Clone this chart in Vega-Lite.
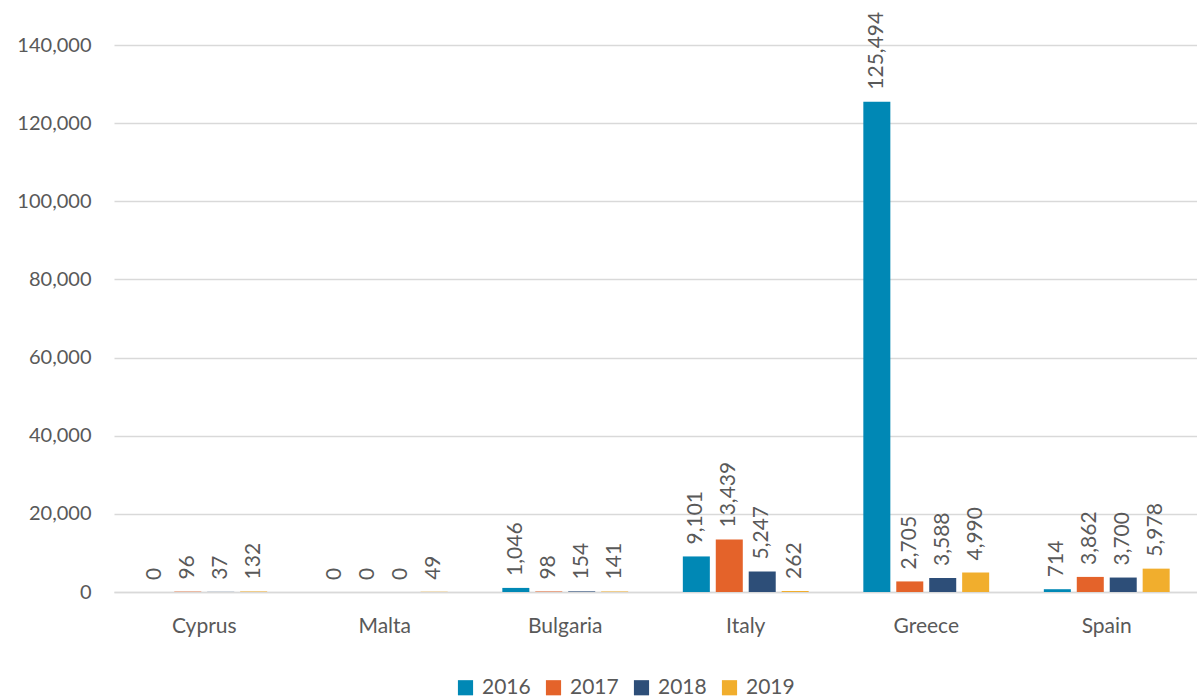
{
  "$schema": "https://vega.github.io/schema/vega-lite/v6.json",
  "width": 1083,
  "height": 547,
  "autosize": {"type": "none"},
  "padding": {"left": 114, "top": 45, "right": 0, "bottom": 108},
  "background": "white",
  "config": {
    "font": "Lato",
    "view": {"stroke": null},
    "axis": {"labelFont": "Lato", "labelColor": "#595959", "labelFontSize": 20},
    "legend": {"labelFont": "Lato", "labelColor": "#595959", "labelFontSize": 21}
  },
  "data": {
    "values": [
      {"country": "Cyprus", "year": "2016", "value": 0},
      {"country": "Cyprus", "year": "2017", "value": 96},
      {"country": "Cyprus", "year": "2018", "value": 37},
      {"country": "Cyprus", "year": "2019", "value": 132},
      {"country": "Malta", "year": "2016", "value": 0},
      {"country": "Malta", "year": "2017", "value": 0},
      {"country": "Malta", "year": "2018", "value": 0},
      {"country": "Malta", "year": "2019", "value": 49},
      {"country": "Bulgaria", "year": "2016", "value": 1046},
      {"country": "Bulgaria", "year": "2017", "value": 98},
      {"country": "Bulgaria", "year": "2018", "value": 154},
      {"country": "Bulgaria", "year": "2019", "value": 141},
      {"country": "Italy", "year": "2016", "value": 9101},
      {"country": "Italy", "year": "2017", "value": 13439},
      {"country": "Italy", "year": "2018", "value": 5247},
      {"country": "Italy", "year": "2019", "value": 262},
      {"country": "Greece", "year": "2016", "value": 125494},
      {"country": "Greece", "year": "2017", "value": 2705},
      {"country": "Greece", "year": "2018", "value": 3588},
      {"country": "Greece", "year": "2019", "value": 4990},
      {"country": "Spain", "year": "2016", "value": 714},
      {"country": "Spain", "year": "2017", "value": 3862},
      {"country": "Spain", "year": "2018", "value": 3700},
      {"country": "Spain", "year": "2019", "value": 5978}
    ]
  },
  "encoding": {
    "x": {
      "field": "country", "type": "nominal", "sort": null, "title": null,
      "scale": {"paddingInner": 0.27, "paddingOuter": 0.135},
      "axis": {"labelAngle": 0, "ticks": false, "domainColor": "#d9d9d9", "domainWidth": 1.5, "labelPadding": 23, "labelFontSize": 21, "grid": false}
    },
    "xOffset": {
      "field": "year", "type": "nominal",
      "scale": {"paddingInner": 0.18, "paddingOuter": 0.09}
    },
    "y": {
      "field": "value", "type": "quantitative", "title": null,
      "scale": {"domain": [0, 140000], "nice": false},
      "axis": {"values": [0, 20000, 40000, 60000, 80000, 100000, 120000, 140000], "format": ",d", "domain": false, "ticks": false, "labelPadding": 23, "gridColor": "#d9d9d9", "gridWidth": 1.5}
    }
  },
  "layer": [
    {
      "mark": {"type": "bar"},
      "encoding": {
        "color": {
          "field": "year", "type": "nominal", "title": null,
          "scale": {"domain": ["2016", "2017", "2018", "2019"], "range": ["#0088b5", "#e4632a", "#2d4e78", "#f1ae2d"]},
          "legend": {"orient": "none", "direction": "horizontal", "legendX": 341, "legendY": 632, "symbolType": "square", "symbolSize": 230, "symbolStrokeWidth": 0, "columnPadding": 12, "labelOffset": 6}
        }
      }
    },
    {
      "mark": {"type": "text", "angle": 270, "align": "left", "baseline": "middle", "dx": 12, "fontSize": 21, "color": "#595959"},
      "encoding": {
        "text": {"field": "value", "type": "quantitative", "format": ",d"}
      }
    }
  ]
}
